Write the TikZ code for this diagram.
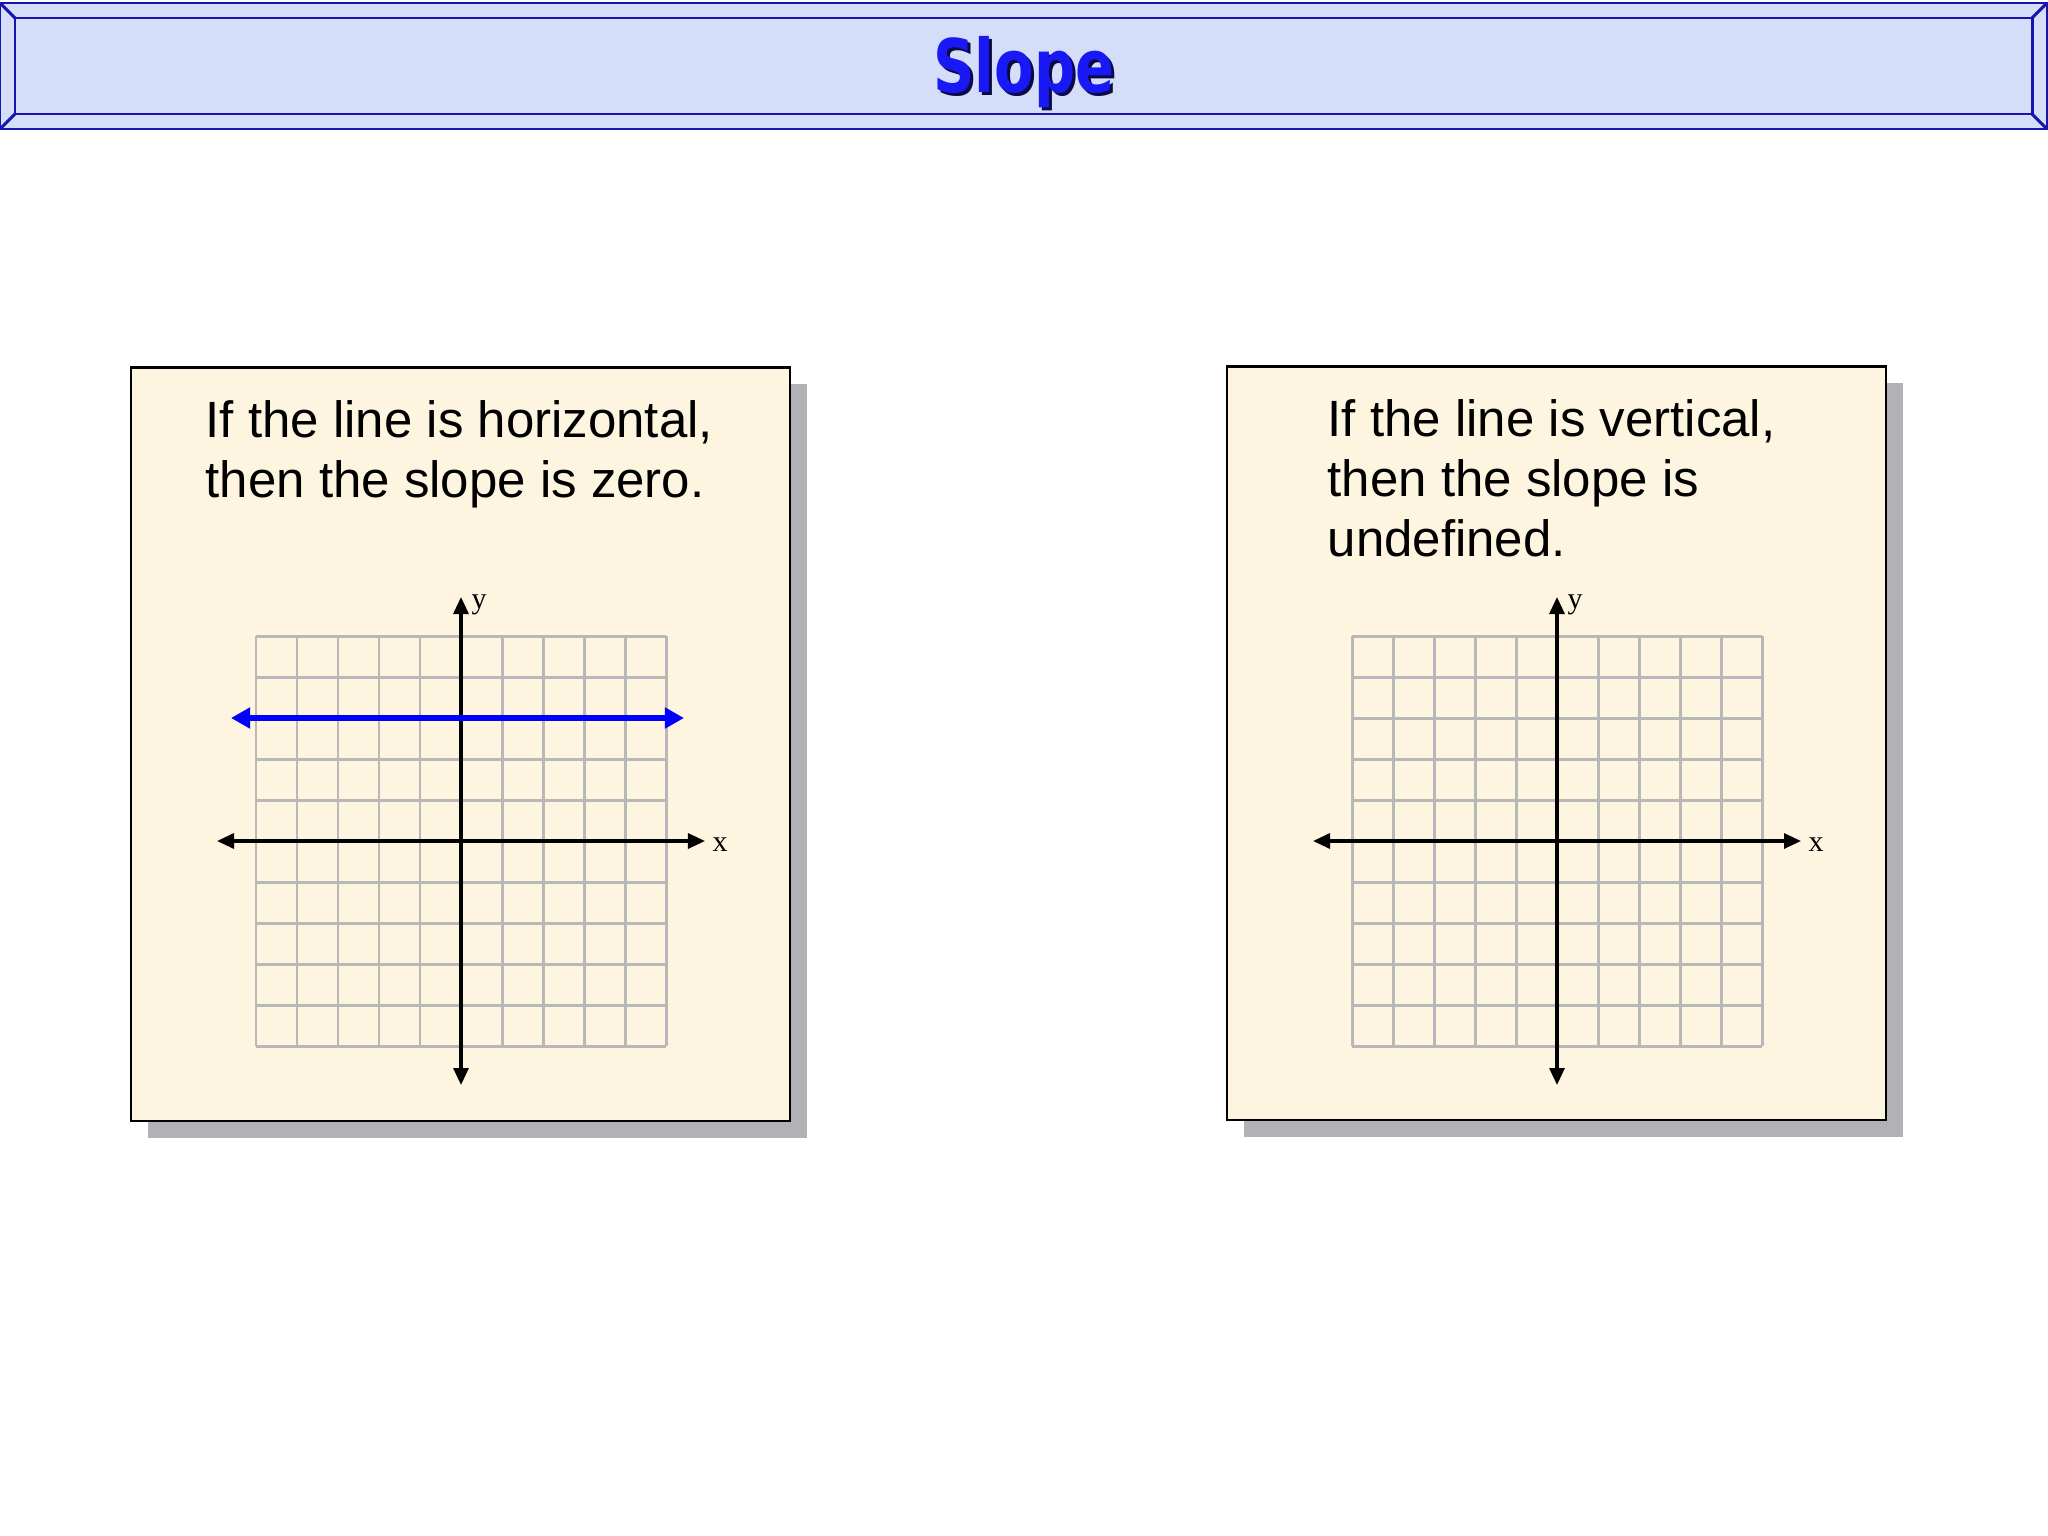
\documentclass[tikz,border=0pt]{standalone}
\usepackage{fontspec}
\usepackage{graphicx}
\setmainfont{Liberation Sans}
\newfontfamily\titlefont{DejaVu Sans}
\newfontfamily\labelfont{Liberation Serif}
\usetikzlibrary{arrows.meta,positioning,shadows}

\definecolor{bannerfill}{RGB}{212,222,248}
\definecolor{bannerline}{RGB}{22,22,175}
\definecolor{titleblue}{RGB}{25,25,245}
\definecolor{titleshade}{RGB}{10,10,70}
\definecolor{parchment}{RGB}{254,245,225}
\definecolor{shadowgray}{RGB}{178,178,182}
\definecolor{gridgray}{RGB}{184,184,184}

\tikzset{
  plane/.pic={
    % grid
    \foreach \k in {-5,...,5} {
      \draw[gridline] (\k*41,-205) -- (\k*41,205);
      \draw[gridline] (-205,\k*41) -- (205,\k*41);
    }
    % axes
    \coordinate (-xl) at (-244,0);
    \coordinate (-xr) at (244,0);
    \coordinate (-yt) at (0,-244);
    \coordinate (-yb) at (0,244);
    \draw[axis] (-xl) -- (-xr);
    \draw[axis] (-yb) -- (-yt);
    \node[axislabel] (-x) at (259,4) {x};
    \node[axislabel] (-y) at (18,-236) {y};
  }
}

\begin{document}
\begin{tikzpicture}[x=0.01cm,y=-0.01cm,
    banner/.style={draw=bannerline,line width=0.85pt,fill=bannerfill},
    bevel/.style={draw=bannerline,line width=0.85pt},
    title/.style={font=\titlefont\bfseries\fontsize{21}{24}\selectfont,inner sep=0pt},
    panel/.style={draw=black,line width=0.7pt,fill=parchment,inner sep=0pt,
      minimum width=6.59cm,minimum height=7.53cm,
      drop shadow={shadow xshift=0.17cm,shadow yshift=-0.17cm,fill=shadowgray,opacity=1}},
    caption/.style={align=left,anchor=north west,inner sep=0pt,
      font=\fontsize{14.5}{17}\selectfont},
    gridline/.style={draw=gridgray,line width=0.85pt},
    axis/.style={draw=black,line width=0.9pt,{Triangle[length=0.17cm,width=0.15cm]}-{Triangle[length=0.17cm,width=0.15cm]}},
    axislabel/.style={font=\labelfont\fontsize{8.5}{10}\selectfont,inner sep=0pt},
    bluearrow/.style={draw=blue,line width=1.5pt,{Triangle[length=0.19cm,width=0.2cm]}-{Triangle[length=0.19cm,width=0.2cm]}}]
  \useasboundingbox (0,0) rectangle (2048,1536);
  % Banner
  \draw[banner] (0,3) rectangle (2047,129);
  \draw[bevel] (15,18) rectangle (2032,114);
  \draw[bevel] (0,3) -- (15,18) (2047,3) -- (2032,18) (0,129) -- (15,114) (2047,129) -- (2032,114);
  \node[title,text=titleshade] (titleshadow) at (1027,75) {\scalebox{0.78}[1]{Slope}};
  \node[title,text=titleblue] (title) at (1024,72) {\scalebox{0.78}[1]{Slope}};
  % Left panel
  \node[panel] (lbox) at (460.5,744) {};
  \pic (L) at (461,841) {plane};
  \node[caption] (ltext) at (205,400) {If the line is horizontal,\\then the slope is zero.};
  \coordinate (bl) at (231,718);
  \coordinate (br) at (684,718);
  \draw[bluearrow] (bl) -- (br);
  % Right panel
  \node[panel] (rbox) at (1556.5,743) {};
  \pic (R) at (1557,841) {plane};
  \node[caption] (rtext) at (1327,399) {If the line is vertical,\\then the slope is\\undefined.};
\end{tikzpicture}
\end{document}
